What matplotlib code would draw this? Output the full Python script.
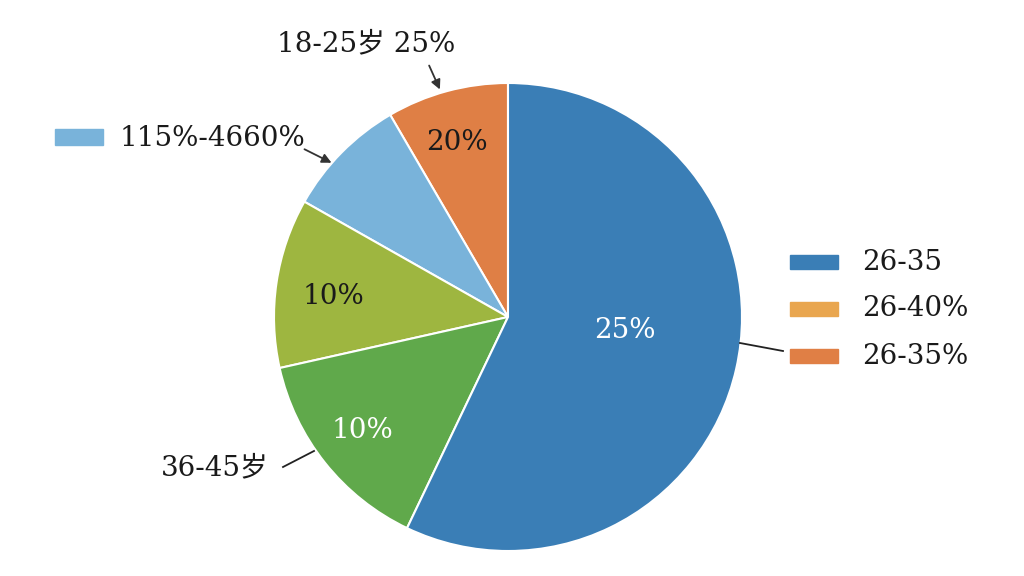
import matplotlib.pyplot as plt
from matplotlib.patches import Rectangle

plt.rcParams["font.family"] = ["DejaVu Serif", "Noto Sans CJK SC"]

# slices, counter-clockwise from 12 o'clock (as seen on screen)
shares = [8.4, 8.4, 11.7, 14.4, 57.1]
slice_colors = ["#df7f45", "#79b3da", "#9eb640", "#60a94b", "#3a7eb6"]
inner_labels = ["20%", "", "10%", "10%", "25%"]
inner_colors = ["#1a1a1a", "#1a1a1a", "#1a1a1a", "white", "white"]

legend_labels = ["26-35", "26-40%", "26-35%"]
legend_colors = ["#3a7eb6", "#e9a64f", "#e07f45"]

fig = plt.figure(figsize=(10.24, 5.76), dpi=100)
ax = fig.add_axes([0, 0, 1, 1])

cx, cy, r = 508, 317, 234
# y axis is flipped below, so clockwise in data = counter-clockwise on screen
wedges, texts = ax.pie(shares, colors=slice_colors, startangle=-90, counterclock=False,
                       center=(cx, cy), radius=r, frame=True,
                       wedgeprops=dict(edgecolor="white", linewidth=1.5))
ax.set_xlim(0, 1024)
ax.set_ylim(576, 0)
ax.set_aspect("equal")
ax.axis("off")

fs = 20
inner_pos = [(457, 142), (0, 0), (333, 297), (362, 430), (625, 330)]
for lab, col, (x, y) in zip(inner_labels, inner_colors, inner_pos):
    if lab:
        ax.text(x, y, lab, color=col, fontsize=fs, ha="center", va="center")

# right legend
for i, (lab, col) in enumerate(zip(legend_labels, legend_colors)):
    y = 262 + i * 47
    ax.add_patch(Rectangle((790, y - 7), 48, 14, color=col))
    ax.text(862, y, lab, fontsize=fs, va="center", ha="left", color="#1a1a1a")
ax.plot([740, 783], [343, 351], color="#222222", lw=1.3)

# top-left legend item
ax.add_patch(Rectangle((55, 129), 48, 16, color="#79b3da"))
ax.text(120, 138, "115%-4660%", fontsize=fs, va="center", ha="left", color="#1a1a1a")
ax.annotate("", xy=(334, 164), xytext=(302, 148),
            arrowprops=dict(arrowstyle="-|>", color="#333333", lw=1.3, mutation_scale=14))

ax.text(366, 44, "18-25岁 25%", fontsize=fs, va="center", ha="center", color="#1a1a1a")
ax.annotate("", xy=(441, 92), xytext=(428, 63),
            arrowprops=dict(arrowstyle="-|>", color="#333333", lw=1.3, mutation_scale=14))

ax.text(215, 468, "36-45岁", fontsize=fs, va="center", ha="center", color="#1a1a1a")
ax.plot([283, 314], [467, 451], color="#222222", lw=1.3)

fig.savefig("out.png", dpi=100)
